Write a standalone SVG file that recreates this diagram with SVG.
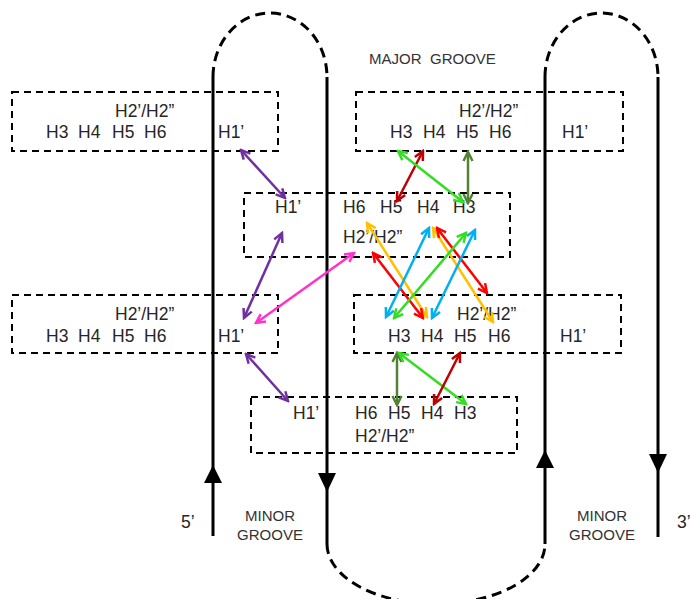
<svg xmlns="http://www.w3.org/2000/svg" width="690" height="599" viewBox="0 0 690 599">
<style>
  .box{fill:none;stroke:#000;stroke-width:2;stroke-dasharray:7 5}
  .lbl{font-family:"Liberation Sans",Arial,sans-serif;font-size:17.5px;fill:#262626}
  .grv{font-family:"Liberation Sans",Arial,sans-serif;font-size:15px;fill:#333}
  .solid{fill:none;stroke:#000;stroke-width:3}
  .dash{fill:none;stroke:#000;stroke-width:3;stroke-dasharray:10 6}
  .ar{fill:none;stroke-width:2.5}
</style>
<defs>
  <marker id="m-purple" markerUnits="userSpaceOnUse" markerWidth="14" markerHeight="14" refX="0" refY="0" viewBox="-12 -7 14 14" orient="auto-start-reverse"><path d="M-9,-4.5 L0,0 L-9,4.5" fill="none" stroke="#7030A0" stroke-width="2.5"/></marker>
  <marker id="m-magenta" markerUnits="userSpaceOnUse" markerWidth="14" markerHeight="14" refX="0" refY="0" viewBox="-12 -7 14 14" orient="auto-start-reverse"><path d="M-9,-4.5 L0,0 L-9,4.5" fill="none" stroke="#FF33CC" stroke-width="2.5"/></marker>
  <marker id="m-dred" markerUnits="userSpaceOnUse" markerWidth="14" markerHeight="14" refX="0" refY="0" viewBox="-12 -7 14 14" orient="auto-start-reverse"><path d="M-9,-4.5 L0,0 L-9,4.5" fill="none" stroke="#C00000" stroke-width="2.5"/></marker>
  <marker id="m-red" markerUnits="userSpaceOnUse" markerWidth="14" markerHeight="14" refX="0" refY="0" viewBox="-12 -7 14 14" orient="auto-start-reverse"><path d="M-9,-4.5 L0,0 L-9,4.5" fill="none" stroke="#FF0000" stroke-width="2.5"/></marker>
  <marker id="m-green" markerUnits="userSpaceOnUse" markerWidth="14" markerHeight="14" refX="0" refY="0" viewBox="-12 -7 14 14" orient="auto-start-reverse"><path d="M-9,-4.5 L0,0 L-9,4.5" fill="none" stroke="#33DD22" stroke-width="2.5"/></marker>
  <marker id="m-olive" markerUnits="userSpaceOnUse" markerWidth="14" markerHeight="14" refX="0" refY="0" viewBox="-12 -7 14 14" orient="auto-start-reverse"><path d="M-9,-4.5 L0,0 L-9,4.5" fill="none" stroke="#548235" stroke-width="2.5"/></marker>
  <marker id="m-blue" markerUnits="userSpaceOnUse" markerWidth="14" markerHeight="14" refX="0" refY="0" viewBox="-12 -7 14 14" orient="auto-start-reverse"><path d="M-9,-4.5 L0,0 L-9,4.5" fill="none" stroke="#00B0F0" stroke-width="2.5"/></marker>
  <marker id="m-orange" markerUnits="userSpaceOnUse" markerWidth="14" markerHeight="14" refX="0" refY="0" viewBox="-12 -7 14 14" orient="auto-start-reverse"><path d="M-9,-4.5 L0,0 L-9,4.5" fill="none" stroke="#FFC000" stroke-width="2.5"/></marker>
</defs>
<rect width="690" height="599" fill="#fff"/>

<g id="boxA">
  <rect class="box" x="12" y="92" width="266" height="59"/>
  <text class="lbl" x="115" y="117">H2’/H2”</text>
  <text class="lbl" x="46" y="138">H3</text><text class="lbl" x="78" y="138">H4</text><text class="lbl" x="112" y="138">H5</text><text class="lbl" x="144" y="138">H6</text>
  <text class="lbl" x="218" y="138">H1’</text>
</g>
<g id="boxB">
  <rect class="box" x="356" y="92" width="267" height="59"/>
  <text class="lbl" x="459" y="117">H2’/H2”</text>
  <text class="lbl" x="390" y="138">H3</text><text class="lbl" x="423" y="138">H4</text><text class="lbl" x="456" y="138">H5</text><text class="lbl" x="489" y="138">H6</text>
  <text class="lbl" x="562" y="138">H1’</text>
</g>
<g id="boxC">
  <rect class="box" x="244" y="193" width="266" height="64"/>
  <text class="lbl" x="275" y="213">H1’</text>
  <text class="lbl" x="343" y="213">H6</text><text class="lbl" x="380" y="213">H5</text><text class="lbl" x="417" y="213">H4</text><text class="lbl" x="453" y="213">H3</text>
  <text class="lbl" x="343" y="243">H2’/H2”</text>
</g>
<g id="boxD">
  <rect class="box" x="12" y="295" width="266" height="58"/>
  <text class="lbl" x="115" y="320">H2’/H2”</text>
  <text class="lbl" x="46" y="342">H3</text><text class="lbl" x="78" y="342">H4</text><text class="lbl" x="112" y="342">H5</text><text class="lbl" x="144" y="342">H6</text>
  <text class="lbl" x="218" y="342">H1’</text>
</g>
<g id="boxE">
  <rect class="box" x="354" y="295" width="267" height="58"/>
  <text class="lbl" x="457" y="320">H2’/H2”</text>
  <text class="lbl" x="388" y="342">H3</text><text class="lbl" x="421" y="342">H4</text><text class="lbl" x="454" y="342">H5</text><text class="lbl" x="488" y="342">H6</text>
  <text class="lbl" x="560" y="342">H1’</text>
</g>
<g id="boxF">
  <rect class="box" x="251" y="397" width="266" height="56"/>
  <text class="lbl" x="293" y="419">H1’</text>
  <text class="lbl" x="355" y="419">H6</text><text class="lbl" x="388" y="419">H5</text><text class="lbl" x="421" y="419">H4</text><text class="lbl" x="454" y="419">H3</text>
  <text class="lbl" x="355" y="442">H2’/H2”</text>
</g>

<g id="strand">
  <path class="solid" d="M213,536 L213,77"/>
  <path class="dash" d="M213,77 A57,64 0 0 1 327,77"/>
  <path class="solid" d="M327,77 L327,544"/>
  <path class="dash" d="M327,544 A109,60 0 0 0 545,544"/>
  <path class="solid" d="M545,544 L545,77"/>
  <path class="dash" d="M545,77 A56.5,64 0 0 1 658,77"/>
  <path class="solid" d="M658,77 L658,537"/>
  <polygon points="213,465 204,483 222,483" fill="#000"/>
  <polygon points="327,492 318,473 336,473" fill="#000"/>
  <polygon points="545,450 536,468 554,468" fill="#000"/>
  <polygon points="658,473 649,454 667,454" fill="#000"/>
</g>

<g id="labels">
  <text class="grv" x="369" y="64">MAJOR</text>
  <text class="grv" x="430" y="64">GROOVE</text>
  <text class="grv" x="270" y="521" text-anchor="middle">MINOR</text>
  <text class="grv" x="270" y="540" text-anchor="middle">GROOVE</text>
  <text class="grv" x="602" y="521" text-anchor="middle">MINOR</text>
  <text class="grv" x="602" y="540" text-anchor="middle">GROOVE</text>
  <text class="lbl" x="181" y="528">5’</text>
  <text class="lbl" x="677" y="528">3’</text>
</g>

<g id="connectors">
  <line class="ar" x1="241" y1="150" x2="285" y2="198" stroke="#7030A0" marker-start="url(#m-purple)" marker-end="url(#m-purple)"/>
  <line class="ar" x1="282" y1="233" x2="244" y2="318" stroke="#7030A0" marker-start="url(#m-purple)" marker-end="url(#m-purple)"/>
  <line class="ar" x1="354" y1="253" x2="256" y2="323" stroke="#FF33CC" marker-start="url(#m-magenta)" marker-end="url(#m-magenta)"/>
  <line class="ar" x1="246" y1="354" x2="288" y2="401" stroke="#7030A0" marker-start="url(#m-purple)" marker-end="url(#m-purple)"/>

  <line class="ar" x1="423" y1="151" x2="397" y2="201" stroke="#C00000" marker-start="url(#m-dred)" marker-end="url(#m-dred)"/>
  <line class="ar" x1="398" y1="151" x2="463" y2="202" stroke="#33DD22" marker-start="url(#m-green)" marker-end="url(#m-green)"/>
  <line class="ar" x1="468" y1="152" x2="468" y2="203" stroke="#548235" marker-start="url(#m-olive)" marker-end="url(#m-olive)"/>

  <line class="ar" x1="367" y1="223" x2="427" y2="317" stroke="#FFC000" marker-start="url(#m-orange)" marker-end="url(#m-orange)"/>
  <line class="ar" x1="373" y1="253" x2="423" y2="318" stroke="#FF0000" marker-start="url(#m-red)" marker-end="url(#m-red)"/>
  <line class="ar" x1="429" y1="228" x2="386" y2="317" stroke="#00B0F0" marker-start="url(#m-blue)" marker-end="url(#m-blue)"/>
  <line class="ar" x1="433" y1="228" x2="493" y2="322" stroke="#FFC000" marker-start="url(#m-orange)" marker-end="url(#m-orange)"/>
  <line class="ar" x1="437" y1="228" x2="487" y2="293" stroke="#FF0000" marker-start="url(#m-red)" marker-end="url(#m-red)"/>
  <line class="ar" x1="466" y1="233" x2="394" y2="318" stroke="#33DD22" marker-start="url(#m-green)" marker-end="url(#m-green)"/>
  <line class="ar" x1="475" y1="230" x2="432" y2="318" stroke="#00B0F0" marker-start="url(#m-blue)" marker-end="url(#m-blue)"/>

  <line class="ar" x1="397" y1="353" x2="397" y2="405" stroke="#548235" marker-start="url(#m-olive)" marker-end="url(#m-olive)"/>
  <line class="ar" x1="399" y1="353" x2="466" y2="404" stroke="#33DD22" marker-start="url(#m-green)" marker-end="url(#m-green)"/>
  <line class="ar" x1="460" y1="353" x2="434" y2="404" stroke="#C00000" marker-start="url(#m-dred)" marker-end="url(#m-dred)"/>
</g>
</svg>
